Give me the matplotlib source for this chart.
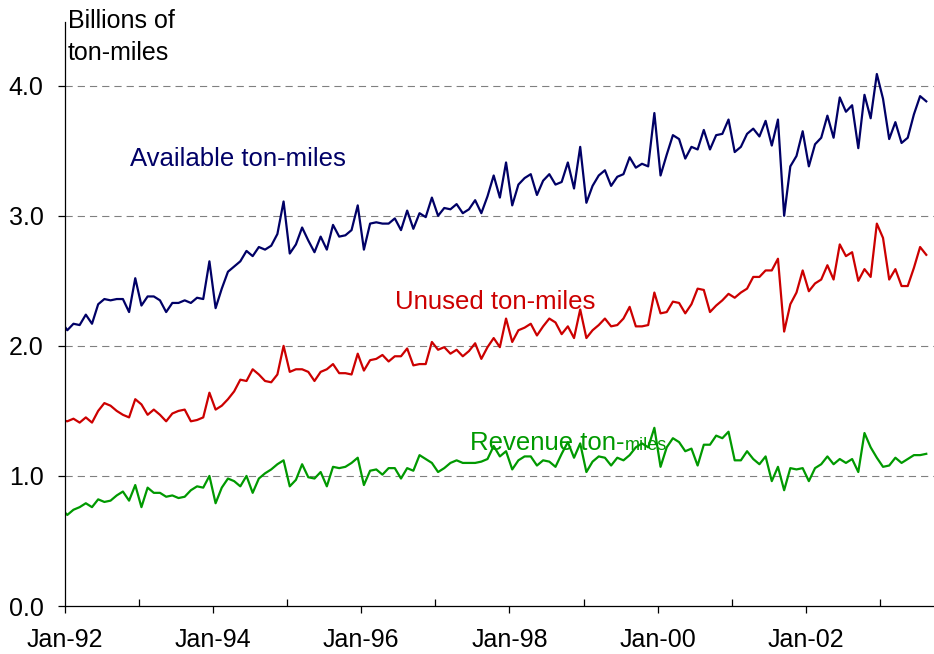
import numpy as np
import matplotlib
matplotlib.use("Agg")
import matplotlib.pyplot as plt
from matplotlib.ticker import FixedLocator

plt.rcParams['font.family'] = ['Liberation Sans', 'DejaVu Sans']

# Monthly values, billions of ton-miles, Dec-91 .. Aug-03
available = [2.19,
    2.12, 2.17, 2.16, 2.24, 2.17, 2.32, 2.36, 2.35, 2.36, 2.36, 2.26, 2.52,
    2.31, 2.38, 2.38, 2.35, 2.26, 2.33, 2.33, 2.35, 2.33, 2.37, 2.36, 2.65,
    2.29, 2.44, 2.57, 2.61, 2.65, 2.73, 2.69, 2.76, 2.74, 2.77, 2.86, 3.11,
    2.71, 2.78, 2.91, 2.81, 2.72, 2.84, 2.74, 2.93, 2.84, 2.85, 2.89, 3.08,
    2.74, 2.94, 2.95, 2.94, 2.94, 2.98, 2.89, 3.04, 2.90, 3.02, 2.99, 3.14,
    3.00, 3.06, 3.05, 3.09, 3.02, 3.05, 3.12, 3.02, 3.15, 3.31, 3.14, 3.41,
    3.08, 3.24, 3.29, 3.32, 3.16, 3.27, 3.32, 3.24, 3.26, 3.41, 3.21, 3.53,
    3.10, 3.23, 3.31, 3.35, 3.23, 3.30, 3.32, 3.45, 3.37, 3.40, 3.38, 3.79,
    3.31, 3.47, 3.62, 3.59, 3.44, 3.53, 3.51, 3.66, 3.51, 3.62, 3.63, 3.74,
    3.49, 3.53, 3.63, 3.67, 3.61, 3.73, 3.54, 3.74, 3.00, 3.38, 3.46, 3.65,
    3.38, 3.55, 3.60, 3.77, 3.60, 3.91, 3.80, 3.85, 3.52, 3.93, 3.75, 4.09,
    3.90, 3.59, 3.72, 3.56, 3.60, 3.78, 3.92, 3.88]

unused = [1.43,
    1.42, 1.44, 1.41, 1.45, 1.41, 1.50, 1.56, 1.54, 1.50, 1.47, 1.45, 1.59,
    1.55, 1.47, 1.51, 1.47, 1.42, 1.48, 1.50, 1.51, 1.42, 1.43, 1.45, 1.64,
    1.51, 1.54, 1.59, 1.65, 1.74, 1.73, 1.82, 1.78, 1.73, 1.72, 1.78, 2.00,
    1.80, 1.82, 1.82, 1.80, 1.73, 1.80, 1.82, 1.86, 1.79, 1.79, 1.78, 1.94,
    1.81, 1.89, 1.90, 1.93, 1.88, 1.92, 1.92, 1.98, 1.85, 1.86, 1.86, 2.03,
    1.97, 1.99, 1.94, 1.97, 1.92, 1.96, 2.02, 1.90, 1.99, 2.06, 1.99, 2.21,
    2.03, 2.12, 2.14, 2.17, 2.08, 2.15, 2.21, 2.18, 2.09, 2.15, 2.06, 2.28,
    2.06, 2.12, 2.16, 2.21, 2.15, 2.16, 2.21, 2.30, 2.15, 2.15, 2.16, 2.41,
    2.25, 2.26, 2.34, 2.33, 2.25, 2.32, 2.44, 2.43, 2.26, 2.31, 2.35, 2.40,
    2.37, 2.41, 2.44, 2.53, 2.53, 2.58, 2.58, 2.67, 2.11, 2.32, 2.41, 2.58,
    2.42, 2.48, 2.51, 2.62, 2.51, 2.78, 2.69, 2.72, 2.50, 2.59, 2.53, 2.94,
    2.83, 2.51, 2.59, 2.46, 2.46, 2.60, 2.76, 2.70]

revenue = [0.75,
    0.70, 0.74, 0.76, 0.79, 0.76, 0.82, 0.80, 0.81, 0.85, 0.88, 0.81, 0.93,
    0.76, 0.91, 0.87, 0.87, 0.84, 0.85, 0.83, 0.84, 0.89, 0.92, 0.91, 1.00,
    0.79, 0.91, 0.98, 0.96, 0.92, 1.00, 0.87, 0.98, 1.02, 1.05, 1.09, 1.12,
    0.92, 0.97, 1.09, 0.99, 0.98, 1.03, 0.92, 1.07, 1.06, 1.07, 1.10, 1.14,
    0.93, 1.04, 1.05, 1.01, 1.06, 1.06, 0.98, 1.06, 1.04, 1.16, 1.13, 1.10,
    1.03, 1.06, 1.10, 1.12, 1.10, 1.10, 1.10, 1.11, 1.13, 1.23, 1.15, 1.19,
    1.05, 1.12, 1.15, 1.15, 1.08, 1.12, 1.11, 1.07, 1.17, 1.26, 1.14, 1.25,
    1.03, 1.11, 1.15, 1.14, 1.08, 1.14, 1.12, 1.16, 1.22, 1.25, 1.22, 1.37,
    1.07, 1.22, 1.29, 1.26, 1.19, 1.21, 1.08, 1.24, 1.24, 1.31, 1.29, 1.34,
    1.12, 1.12, 1.19, 1.13, 1.09, 1.15, 0.96, 1.07, 0.89, 1.06, 1.05, 1.06,
    0.96, 1.06, 1.09, 1.15, 1.09, 1.13, 1.10, 1.13, 1.03, 1.33, 1.22, 1.14,
    1.07, 1.08, 1.14, 1.10, 1.13, 1.16, 1.16, 1.17]

year_labels = ['Jan-92', 'Jan-94', 'Jan-96', 'Jan-98', 'Jan-00', 'Jan-02']
y_ticks = [0.0, 1.0, 2.0, 3.0, 4.0]

# months counted from Jan 1992, points sit mid-month
months = np.arange(-1, len(available) - 1) + 0.45

NAVY = '#000066'
RED = '#CC0000'
GREEN = '#009900'

fig = plt.figure(figsize=(9.34, 6.54), dpi=100)
ax = fig.add_axes([64.5 / 934, 48 / 654, 1 - 64.5 / 934, 584 / 654])

ax.plot(months, available, color=NAVY, lw=1.6)
ax.plot(months, unused, color=RED, lw=1.6)
ax.plot(months, revenue, color=GREEN, lw=1.6)

ax.set_xlim(0, 140.7)
ax.set_ylim(0, 4.49)

#Axis styling
for s in ['top', 'right']:
    ax.spines[s].set_visible(False)
for s in ['left', 'bottom']:
    ax.spines[s].set_linewidth(0.9)
    ax.spines[s].set_color('black')

ax.set_xticks(np.arange(len(year_labels)) * 24)
ax.set_xticklabels(year_labels)
ax.xaxis.set_minor_locator(FixedLocator(np.arange(len(year_labels)) * 24 + 12))
ax.tick_params(axis='x', which='major', direction='out', length=5, width=0.9,
               pad=11, labelsize=18)
ax.tick_params(axis='x', which='minor', direction='in', length=5, width=0.9)

ax.set_yticks(y_ticks)
ax.set_yticklabels([f'{v:.1f}' for v in y_ticks])
ax.tick_params(axis='y', direction='out', length=5, width=0.9, pad=10,
               labelsize=18)

for v in y_ticks[1:]:
    ax.axhline(v, color='#808080', lw=0.8, linestyle=(0, (6.5, 4.5)), zorder=0)

#Series labels
ax.text(10.6, 3.44, 'Available ton-miles', color=NAVY, fontsize=18.5,
        ha='left', va='center')
ax.text(53.5, 2.34, 'Unused ton-miles', color=RED, fontsize=18.5,
        ha='left', va='center')
rev = ax.text(65.6, 1.25, 'Revenue ton-', color=GREEN, fontsize=18.5,
              ha='left', va='center')
ax.annotate('miles', xy=(1, 0), xycoords=rev, xytext=(0.5, 4),
            textcoords='offset points', color=GREEN, fontsize=13,
            ha='left', va='baseline')

fig.text(67.5 / 934, 1 - 9 / 654, 'Billions of\nton-miles', fontsize=18,
         ha='left', va='top', linespacing=1.42)

plt.savefig('out.png', dpi=100)
